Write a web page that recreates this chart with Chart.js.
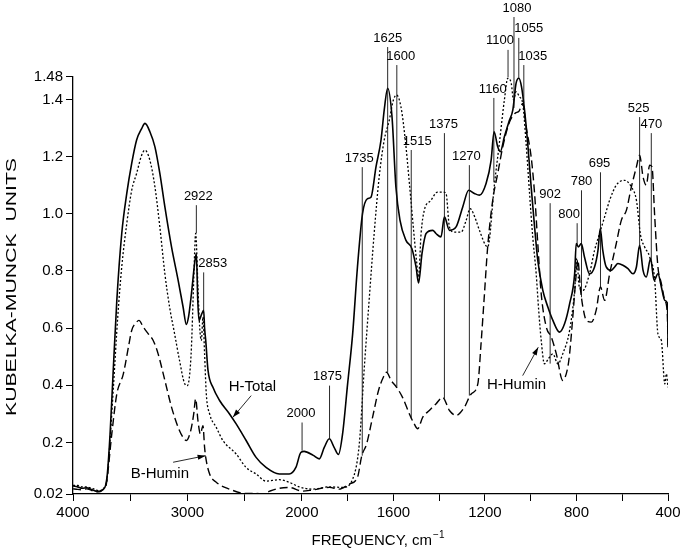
<!DOCTYPE html>
<html>
<head>
<meta charset="utf-8">
<script src="https://cdn.jsdelivr.net/npm/chart.js@4.4.1/dist/chart.umd.min.js"></script>
<style>
  html, body { margin: 0; padding: 0; background: #fff; }
  #wrap { width: 685px; height: 557px; }
</style>
</head>
<body>
<div id="wrap"><canvas id="spectrum" width="685" height="557"></canvas></div>
<script>
// [frequency cm-1, Kubelka-Munck units]
const hTotal = [
  [4000,0.048],[3960,0.045],[3920,0.04],[3880,0.042],[3840,0.036],[3800,0.03],[3770,0.028],[3740,0.035],
  [3715,0.05],[3700,0.09],[3676,0.23],[3647,0.463],[3617,0.697],[3574,0.931],[3530,1.071],[3487,1.176],
  [3444,1.258],[3400,1.298],[3371,1.316],[3328,1.287],[3284,1.234],[3241,1.141],[3197,1.024],[3139,0.884],
  [3081,0.767],[3038,0.674],[3009,0.613],[2990,0.64],[2965,0.72],[2936,0.83],[2922,0.862],[2910,0.70],
  [2899,0.627],[2875,0.65],[2858,0.662],[2850,0.60],[2840,0.557],[2820,0.452],[2777,0.393],[2719,0.347],
  [2632,0.30],[2574,0.265],[2487,0.207],[2400,0.148],[2313,0.113],[2197,0.09],[2110,0.09],[2052,0.113],
  [2009,0.165],[1990,0.169],[1950,0.155],[1924,0.143],[1902,0.183],[1880,0.213],[1859,0.183],[1840,0.158],
  [1822,0.23],[1800,0.405],[1778,0.58],[1757,0.814],[1735,1.0],[1713,1.053],[1698,1.058],[1676,1.164],
  [1654,1.258],[1640,1.363],[1625,1.439],[1606,1.339],[1589,1.094],[1571,0.977],[1545,0.907],[1519,0.878],
  [1501,0.814],[1490,0.758],[1475,0.861],[1457,0.931],[1428,0.942],[1414,0.931],[1392,0.919],[1377,0.989],
  [1355,0.942],[1326,0.954],[1297,1.024],[1271,1.082],[1246,1.071],[1224,1.065],[1195,1.106],[1173,1.187],
  [1160,1.287],[1144,1.234],[1133,1.217],[1115,1.269],[1093,1.327],[1078,1.363],[1064,1.456],[1052,1.474],
  [1040,1.444],[1027,1.363],[1013,1.246],[998,1.094],[983,0.954],[969,0.837],[947,0.732],[925,0.674],
  [903,0.627],[874,0.586],[852,0.615],[830,0.685],[808,0.79],[801,0.896],[791,0.884],[779,0.896],
  [765,0.849],[743,0.79],[721,0.814],[706,0.872],[696,0.948],[685,0.872],[670,0.814],[648,0.802],
  [633,0.814],[619,0.826],[597,0.82],[575,0.808],[553,0.79],[538,0.814],[524,0.89],[509,0.802],
  [495,0.779],[476,0.843],[461,0.767],[444,0.79],[429,0.744],[414,0.697],[402,0.685],[400,0.533]
];

const hHumin = [
  [4000,0.05],[3960,0.05],[3920,0.045],[3880,0.045],[3840,0.04],[3800,0.035],[3770,0.03],[3740,0.038],
  [3715,0.05],[3704,0.067],[3676,0.207],[3647,0.393],[3609,0.639],[3574,0.814],[3530,0.966],[3487,1.082],
  [3444,1.141],[3400,1.205],[3371,1.222],[3328,1.187],[3284,1.094],[3241,0.954],[3197,0.79],[3156,0.674],
  [3112,0.58],[3069,0.487],[3023,0.405],[3000,0.399],[2980,0.44],[2965,0.533],[2945,0.767],[2928,0.931],
  [2908,0.744],[2893,0.604],[2878,0.557],[2864,0.639],[2850,0.51],[2835,0.37],[2806,0.30],[2748,0.253],
  [2690,0.207],[2574,0.16],[2487,0.113],[2400,0.09],[2313,0.065],[2197,0.07],[2110,0.061],[2023,0.045],
  [1953,0.037],[1880,0.045],[1822,0.043],[1778,0.072],[1749,0.195],[1727,0.463],[1706,0.697],[1684,0.931],
  [1662,1.129],[1640,1.258],[1618,1.327],[1600,1.398],[1586,1.415],[1567,1.374],[1548,1.258],[1530,1.106],
  [1513,0.954],[1499,0.837],[1490,0.779],[1479,0.931],[1465,1.012],[1436,1.047],[1407,1.076],[1385,1.076],
  [1370,1.071],[1355,0.954],[1334,0.936],[1304,0.936],[1282,0.977],[1265,1.018],[1239,0.977],[1224,0.942],
  [1188,0.884],[1158,1.106],[1137,1.246],[1115,1.398],[1100,1.474],[1085,1.456],[1075,1.398],[1064,1.427],
  [1049,1.409],[1035,1.386],[1020,1.246],[1005,1.071],[991,0.919],[976,0.79],[965,0.662],[954,0.557],
  [940,0.475],[922,0.494],[903,0.51],[881,0.475],[860,0.51],[830,0.592],[808,0.732],[798,0.844],
  [789,0.75],[772,0.732],[743,0.79],[721,0.872],[699,0.931],[677,0.989],[655,1.047],[626,1.1],
  [590,1.117],[560,1.094],[538,1.047],[520,0.925],[502,0.884],[480,0.849],[458,0.767],[444,0.58],
  [429,0.557],[414,0.405],[407,0.44],[400,0.393]
];

const bHumin = [
  [4000,0.038],[3960,0.036],[3920,0.035],[3880,0.038],[3840,0.033],[3800,0.028],[3770,0.03],[3740,0.035],
  [3715,0.045],[3704,0.067],[3661,0.23],[3617,0.37],[3560,0.44],[3516,0.533],[3487,0.592],[3444,0.621],
  [3424,0.627],[3386,0.604],[3342,0.58],[3299,0.557],[3256,0.51],[3197,0.417],[3139,0.324],[3081,0.253],
  [3038,0.218],[3009,0.207],[2971,0.242],[2945,0.30],[2928,0.353],[2908,0.277],[2887,0.23],[2864,0.259],
  [2850,0.183],[2840,0.148],[2806,0.09],[2748,0.061],[2632,0.037],[2487,0.022],[2400,0.022],[2342,0.02],
  [2280,0.03],[2197,0.04],[2110,0.043],[1997,0.03],[1954,0.034],[1880,0.043],[1837,0.037],[1793,0.055],
  [1757,0.078],[1738,0.154],[1717,0.195],[1691,0.288],[1665,0.382],[1644,0.428],[1630,0.446],[1610,0.417],
  [1586,0.393],[1560,0.358],[1530,0.30],[1509,0.265],[1494,0.248],[1472,0.288],[1443,0.312],[1414,0.335],
  [1385,0.358],[1355,0.312],[1326,0.295],[1290,0.323],[1260,0.37],[1231,0.405],[1217,0.545],[1202,0.72],
  [1188,0.884],[1166,1.047],[1144,1.141],[1122,1.234],[1093,1.32],[1070,1.35],[1050,1.36],[1035,1.386],
  [1020,1.304],[998,1.199],[983,1.071],[969,0.896],[954,0.72],[932,0.604],[910,0.569],[888,0.51],
  [860,0.417],[838,0.463],[830,0.51],[816,0.639],[801,0.79],[794,0.837],[782,0.732],[772,0.674],
  [757,0.627],[735,0.621],[714,0.662],[695,0.744],[677,0.697],[655,0.79],[626,0.896],[604,0.977],
  [582,1.012],[560,1.094],[538,1.164],[524,1.205],[509,1.129],[495,1.1],[480,1.17],[470,1.164],
  [458,0.989],[444,0.814],[429,0.756],[414,0.697],[403,0.65],[400,0.54]
];

const xTickFreqs = [4000, 3500, 3000, 2500, 2000, 1800, 1600, 1400, 1200, 1000, 800, 600, 400];
const xLabelFreqs = [4000, 3000, 2000, 1600, 1200, 800, 400];
const yTicks = [0.02, 0.2, 0.4, 0.6, 0.8, 1.0, 1.2, 1.4, 1.48];

// peak markers: label, frequency of the leader line, line top / bottom value
const peakLabels  = ['2922','2853','2000','1875','1735','1625','1600','1515','1375','1270','1160','1100','1080','1055','1035','902','800','780','695','525','470'];
const peakFreqs   = [2922, 2858, 1999, 1879, 1736, 1625, 1585, 1522, 1377, 1268, 1161, 1099, 1073, 1052, 1030, 915, 797, 778, 695, 524, 473];
const peakTops    = [1.030, 0.795, 0.270, 0.399, 1.163, 1.583, 1.520, 1.223, 1.282, 1.170, 1.405, 1.573, 1.688, 1.615, 1.520, 1.037, 0.967, 1.082, 1.145, 1.338, 1.282];
const peakBottoms = [0.932, 0.662, 0.172, 0.214, 0.154, 0.445, 0.392, 0.284, 0.354, 0.364, 1.110, 1.478, 1.370, 1.475, 1.387, 0.476, 0.890, 0.708, 0.743, 0.883, 0.837];
const peakShift   = [2, 9, -1, -2, -3, 0, 4, 6, -1, -3, -1, -8, 3, 10, 9, 0, -8, 0, -1, -1, 0];

// series name labels with arrows: text position, arrow start, arrow tip
const seriesNames = ['H-Total', 'B-Humin', 'H-Humin'];
const nameAt   = [[2432, 0.396], [3241, 0.091], [1062, 0.403]];
const arrowFrom = [[2443, 0.364], [3125, 0.131], [1035, 0.434]];
const arrowTo   = [[2603, 0.288], [2841, 0.154], [967, 0.533]];

// the frequency axis changes scale at 2000 cm-1 (half scale above it)
function pos(f) { return f >= 2000 ? (4000 - f) / 2 : 1000 + (2000 - f); }
function freqOf(p) { return Math.round(p <= 1000 ? 4000 - 2 * p : 2000 - (p - 1000)); }
const toXY = arr => arr.map(d => ({ x: pos(d[0]), y: d[1] }));

const FONT = '"Liberation Sans", Arial, Helvetica, sans-serif';
Chart.defaults.font.family = FONT;
Chart.defaults.color = '#000';

const annotate = {
  id: 'annotate',
  afterDraw(chart) {
    const { ctx, scales: { x, y }, chartArea } = chart;
    const px = f => x.getPixelForValue(pos(f));
    const py = v => y.getPixelForValue(v);
    ctx.save();
    ctx.strokeStyle = '#111';
    ctx.fillStyle = '#000';
    ctx.lineWidth = 0.9;
    ctx.font = '13px ' + FONT;
    ctx.textAlign = 'center';
    ctx.textBaseline = 'middle';
    peakLabels.forEach((t, i) => {
      const lx = px(peakFreqs[i]);
      const top = py(peakTops[i]);
      ctx.beginPath();
      ctx.moveTo(lx, top);
      ctx.lineTo(lx, py(peakBottoms[i]));
      ctx.stroke();
      ctx.fillText(t, lx + peakShift[i], top - 9);
    });

    ctx.font = '15px ' + FONT;
    seriesNames.forEach((t, i) => {
      ctx.fillText(t, px(nameAt[i][0]), py(nameAt[i][1]));
      const x1 = px(arrowFrom[i][0]), y1 = py(arrowFrom[i][1]);
      const x2 = px(arrowTo[i][0]), y2 = py(arrowTo[i][1]);
      ctx.beginPath();
      ctx.moveTo(x1, y1);
      ctx.lineTo(x2, y2);
      ctx.stroke();
      const a = Math.atan2(y2 - y1, x2 - x1);
      ctx.beginPath();
      ctx.moveTo(x2, y2);
      ctx.lineTo(x2 - 8 * Math.cos(a) + 2.6 * Math.sin(a), y2 - 8 * Math.sin(a) - 2.6 * Math.cos(a));
      ctx.lineTo(x2 - 8 * Math.cos(a) - 2.6 * Math.sin(a), y2 - 8 * Math.sin(a) + 2.6 * Math.cos(a));
      ctx.closePath();
      ctx.fill();
    });

    // x axis title with superscript
    const cx = (chartArea.left + chartArea.right) / 2 + 7;
    ctx.font = '15px ' + FONT;
    const main = 'FREQUENCY, cm';
    const w1 = ctx.measureText(main).width;
    ctx.font = '10px ' + FONT;
    const w2 = ctx.measureText('\u22121').width;
    ctx.textAlign = 'left';
    ctx.font = '15px ' + FONT;
    ctx.fillText(main, cx - (w1 + w2) / 2, 541);
    ctx.font = '10px ' + FONT;
    ctx.fillText('\u22121', cx - (w1 + w2) / 2 + w1 + 1, 535);

    // y axis title, stretched to the original length
    ctx.translate(12, 287);
    ctx.rotate(-Math.PI / 2);
    ctx.font = '15px ' + FONT;
    ctx.textAlign = 'center';
    const ytxt = 'KUBELKA-MUNCK  UNITS';
    const wy = ctx.measureText(ytxt).width;
    ctx.scale(258 / wy, 1);
    ctx.fillText(ytxt, 0, 0);
    ctx.restore();
  }
};

new Chart(document.getElementById('spectrum'), {
  type: 'line',
  data: {
    datasets: [
      { label: 'H-Total', data: toXY(hTotal), borderColor: '#000', borderWidth: 1.6 },
      { label: 'H-Humin', data: toXY(hHumin), borderColor: '#000', borderWidth: 1.3, borderDash: [2, 2] },
      { label: 'B-Humin', data: toXY(bHumin), borderColor: '#000', borderWidth: 1.4, borderDash: [8, 4] }
    ]
  },
  options: {
    responsive: false,
    animation: false,
    events: [],
    layout: { padding: { left: 0, right: 17, top: 76.5, bottom: 0 } },
    elements: {
      point: { radius: 0 },
      line: { cubicInterpolationMode: 'monotone', fill: false }
    },
    plugins: { legend: { display: false }, tooltip: { enabled: false } },
    scales: {
      x: {
        type: 'linear',
        min: 0,
        max: 2600,
        afterBuildTicks: scale => { scale.ticks = xTickFreqs.map(f => ({ value: pos(f) })); },
        afterFit: scale => { scale.height = 63; },
        ticks: {
          autoSkip: false,
          maxRotation: 0,
          padding: 3,
          font: { size: 15 },
          callback: v => (xLabelFreqs.includes(freqOf(v)) ? String(freqOf(v)) : '')
        },
        grid: { drawOnChartArea: false, drawTicks: true, tickLength: 7, color: '#000', lineWidth: 1 },
        border: { display: true, color: '#000', width: 1.3 }
      },
      y: {
        min: 0.02,
        max: 1.48,
        afterBuildTicks: scale => { scale.ticks = yTicks.map(v => ({ value: v })); },
        afterFit: scale => { scale.width = 73; },
        ticks: {
          padding: 3,
          font: { size: 15 },
          callback: v => (v === 0.02 || v === 1.48 ? v.toFixed(2) : v.toFixed(1))
        },
        grid: { drawOnChartArea: false, drawTicks: true, tickLength: 7, color: '#000', lineWidth: 1 },
        border: { display: true, color: '#000', width: 1.3 }
      }
    }
  },
  plugins: [annotate]
});
</script>
</body>
</html>
